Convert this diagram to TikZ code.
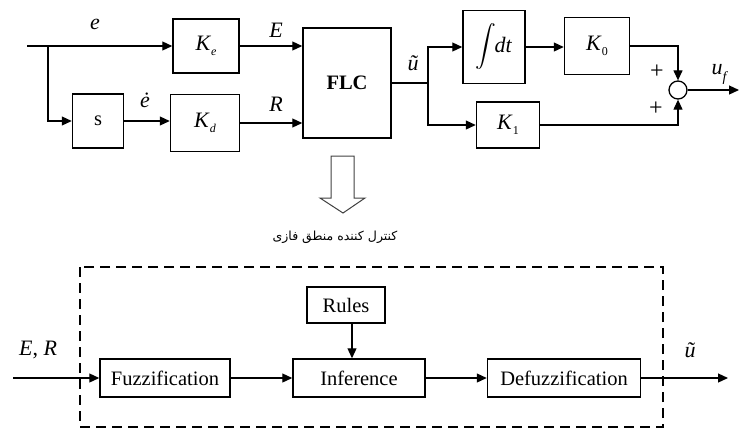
\documentclass[tikz,border=0pt]{standalone}
\usepackage{amsmath}
\usepackage{fontspec}
\setmainfont{Liberation Serif}
\newfontfamily\arabicfont[Script=Arabic]{DejaVu Sans}
\TeXXeTstate=1
\usetikzlibrary{arrows.meta}
\newcommand{\Ksb}[1]{{\fontsize{22}{24}\selectfont\textit{K}}\raisebox{-0.55ex}{\fontsize{12}{12}\selectfont #1}}
\begin{document}
\begin{tikzpicture}[x=1pt,y=-1pt,
  blk/.style={draw, line width=1.5pt, inner sep=0pt, font=\fontsize{20.5}{24}\selectfont},
  lab/.style={font=\fontsize{22}{24}\selectfont\itshape, inner sep=0pt},
  sig/.style={line width=1.2pt, -{Triangle[length=10pt,width=9pt]}},
  wire/.style={line width=1.2pt},
  dbox/.style={draw, line width=1.8pt, dash pattern=on 10pt off 6pt}]
\useasboundingbox (0,0) rectangle (739,432);
% top row blocks
\node[blk, minimum width=66pt, minimum height=54pt] (ke) at (206,46) {\Ksb{\textit{e}}};
\node[blk, minimum width=51pt, minimum height=54pt] (s) at (98,121) {s};
\node[blk, minimum width=69pt, minimum height=57pt] (kd) at (205,123) {\Ksb{\textit{d}}};
\node[blk, minimum width=88pt, minimum height=110pt, font=\fontsize{20.5}{24}\selectfont\bfseries] (flc) at (347,83) {FLC};
\node[blk, minimum width=62pt, minimum height=73pt] (int) at (494,47) {$\displaystyle\int$\kern-2pt{\fontsize{22}{24}\selectfont\textit{dt}}};
\node[blk, minimum width=65pt, minimum height=57pt] (k0) at (597,46) {\Ksb{0}};
\node[blk, minimum width=63pt, minimum height=46pt] (k1) at (508,125) {\Ksb{1}};
\node[draw, circle, line width=1.3pt, minimum size=18pt, inner sep=0pt] (sum) at (678,90) {};
% coordinates
\coordinate (in) at (27,46);
\coordinate (br) at (48,46);
\coordinate (br2) at (428,83);
\coordinate (out) at (739,90);
% top connectors
\draw[sig] (in) -- (ke.west);
\draw[sig] (br) |- (s.west);
\draw[sig] (s.east) -- (kd.west |- s.east);
\draw[sig] (ke.east) -- (flc.west |- ke.east);
\draw[sig] (kd.east) -- (flc.west |- kd.east);
\draw[wire] (flc.east) -- (br2);
\draw[sig] (br2) |- (int.west);
\draw[sig] (br2) |- (k1.west);
\draw[sig] (int.east) -- (k0.west |- int.east);
\draw[sig] (k0.east) -| (sum.north);
\draw[sig] (k1.east) -| (sum.south);
\draw[sig] (sum.east) -- (out);
% top labels
\node[lab] (le) at (95,24) {e};
\node[lab] (led) at (145,100) {ė};
\node[lab] (lE) at (276,30) {E};
\node[lab] (lR) at (276,104) {R};
\node[lab] (lu) at (413,63) {ũ};
\node[lab, font=\fontsize{24}{24}\selectfont] (p1) at (657,72) {+};
\node[lab, font=\fontsize{24}{24}\selectfont] (p2) at (656,109) {+};
\node[lab] (luf) at (719,74) {u\raisebox{-0.7ex}{\fontsize{14}{14}\selectfont\itshape f}};
% hollow arrow
\draw[line width=1pt, black!75] (331,156) -- (354,156) -- (354,198) -- (365,198) -- (343,213) -- (320,198) -- (331,198) -- cycle;
\node[font=\arabicfont\fontsize{12.5}{14}\selectfont, inner sep=0pt] (ar) at (335,237) {\beginR کنترل کننده منطق فازی\endR};
% bottom
\draw[dbox] (80,267) rectangle (663,427);
\node[blk, minimum width=130pt, minimum height=38pt] (fuzz) at (165,378) {Fuzzification};
\node[blk, minimum width=132pt, minimum height=38pt] (inf) at (359,378) {Inference};
\node[blk, minimum width=78pt, minimum height=36pt] (rules) at (346,305) {Rules};
\node[blk, minimum width=153pt, minimum height=38pt] (defuzz) at (564,378) {Defuzzification};
\coordinate (in2) at (13,378);
\coordinate (out2) at (728,378);
\draw[sig] (in2) -- (fuzz.west);
\draw[sig] (fuzz.east) -- (inf.west);
\draw[sig] (inf.east) -- (defuzz.west);
\draw[sig] ([xshift=6pt]rules.south) -- ([xshift=6pt]rules.south |- inf.north);
\draw[sig] (defuzz.east) -- (out2);
\node[lab] (lER) at (38,350) {E\upshape, \itshape R};
\node[lab] (lu2) at (690,350) {ũ};
\end{tikzpicture}
\end{document}
